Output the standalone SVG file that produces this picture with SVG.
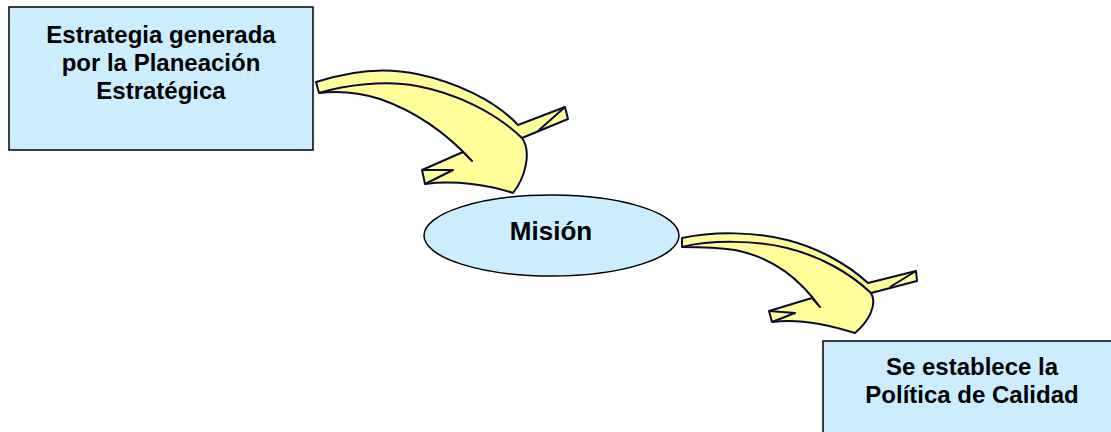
<svg xmlns="http://www.w3.org/2000/svg" width="1111" height="432" viewBox="0 0 1111 432">
<style>
.box{fill:#CCECFF;stroke:#000;stroke-width:1.5}
.arrow{fill:#FFFF99;stroke:#0A0A33;stroke-width:2;stroke-linejoin:round}
.fold{fill:none;stroke:#0A0A33;stroke-width:2;stroke-linejoin:round}
.t{font-family:"Liberation Sans",Arial,sans-serif;font-weight:bold;fill:#000;text-anchor:middle}
</style>
<rect width="1111" height="432" fill="#fff"/>
<g id="connectors">
<g id="arrow1">
<path class="arrow" d="M316,82 C350,71 385,67 417,74 C455,82 495,100 518,125 L565,107 L568,119 L522,138 C532,152 525,178 513,193 C490,185 455,180 425,184 L422,170 L463,152 L472,161 C450,137 420,113 380,99 C355,91 335,91 319,93 Z"/>
<path class="fold" d="M319,93 C345,85 385,80 417,86 C455,93 495,112 522,138"/>
<path class="fold" d="M565,107 L538,131"/>
<path class="fold" d="M422,170 L453,170 L425,184"/>
</g>
<g id="arrow2">
<path class="arrow" d="M682,238 C715,231 755,232 787,240 C815,247 845,262 868,283 L916,271 L917,281 L871,293 C878,305 868,322 855,333 C830,325 800,318 772,322 L769,311 L812,298 L820,307 C800,280 775,258 735,250 C715,247 700,247 682,247 Z"/>
<path class="fold" d="M682,247 C710,240 755,240 787,248 C820,256 850,273 871,293"/>
<path class="fold" d="M916,271 L890,287"/>
<path class="fold" d="M769,311 L795,313 L772,322"/>
</g>
</g>
<g id="node-estrategia">
<rect class="box" x="9" y="7" width="304" height="143"/>
<text class="t" font-size="24"><tspan x="161" y="43">Estrategia generada</tspan><tspan x="161" y="71">por la Planeación</tspan><tspan x="161" y="99">Estratégica</tspan></text>
</g>
<g id="node-mision">
<ellipse class="box" cx="551.5" cy="235.5" rx="127.5" ry="40.5"/>
<text class="t" font-size="26" x="551" y="240">Misión</text>
</g>
<g id="node-politica">
<rect class="box" x="823" y="341" width="298" height="100"/>
<text class="t" font-size="24"><tspan x="972" y="375">Se establece la</tspan><tspan x="972" y="403">Política de Calidad</tspan></text>
</g>
</svg>
